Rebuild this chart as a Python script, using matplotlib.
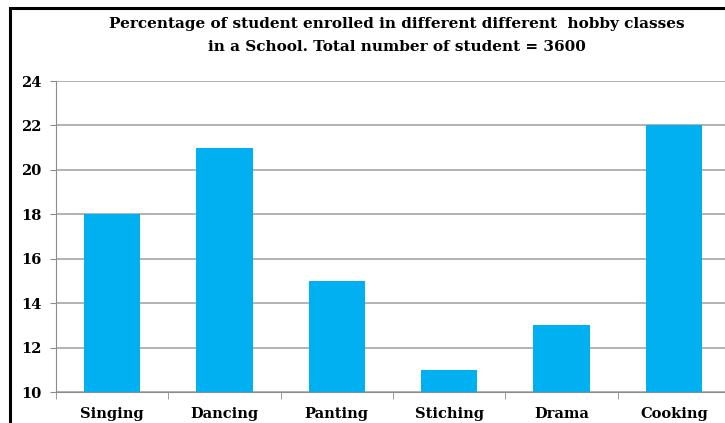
import matplotlib.pyplot as plt
from matplotlib.patches import Rectangle

categories = ['Singing', 'Dancing', 'Panting', 'Stiching', 'Drama', 'Cooking']
percent = [18, 21, 15, 11, 13, 22]
yticks = [10, 12, 14, 16, 18, 20, 22, 24]

plt.rcParams['font.family'] = ['DejaVu Serif']

fig = plt.figure(figsize=(7.25, 4.23), dpi=100)
W, H = 725, 423
ax = fig.add_axes([56 / W, 1 - 392 / H, (730 - 56) / W, (392 - 81) / H])

x = range(len(categories))
ax.bar(x, percent, width=0.5, color='#00B0F0', zorder=3)

ax.set_xlim(-0.5, len(categories) - 0.5)
ax.set_ylim(10, 24)
ax.set_yticks(yticks)
ax.set_yticklabels([str(t) for t in yticks], fontsize=10.5, fontweight='bold')
ax.set_xticks(list(x))
ax.set_xticklabels(categories, fontsize=10.5, fontweight='bold')
ax.tick_params(axis='x', length=0, pad=11)
ax.tick_params(axis='y', length=4.5, color='#8c8c8c', pad=6)

# boundary ticks between categories
ax.set_xticks([i - 0.5 for i in range(len(categories) + 1)], minor=True)
ax.tick_params(axis='x', which='minor', length=5, color='#8c8c8c')

ax.grid(axis='y', color='#a6a6a6', linewidth=1.2, zorder=0)
for s in ['top', 'right']:
    ax.spines[s].set_visible(False)
ax.spines['left'].set_color('#8c8c8c')
ax.spines['bottom'].set_color('#8c8c8c')

fig.text(397 / W, 1 - 24 / H, 'Percentage of student enrolled in different different  hobby classes',
         ha='center', va='center', fontsize=11, fontweight='bold')
fig.text(397 / W, 1 - 47 / H, 'in a School. Total number of student = 3600',
         ha='center', va='center', fontsize=11, fontweight='bold')

# outer chart border (cropped screenshot)
fig.add_artist(Rectangle((10 / W, -0.1), 1.2, 1 - 8 / H + 0.1, transform=fig.transFigure,
                         fill=False, edgecolor='black', linewidth=2.2))

fig.savefig('out.png', dpi=100)
